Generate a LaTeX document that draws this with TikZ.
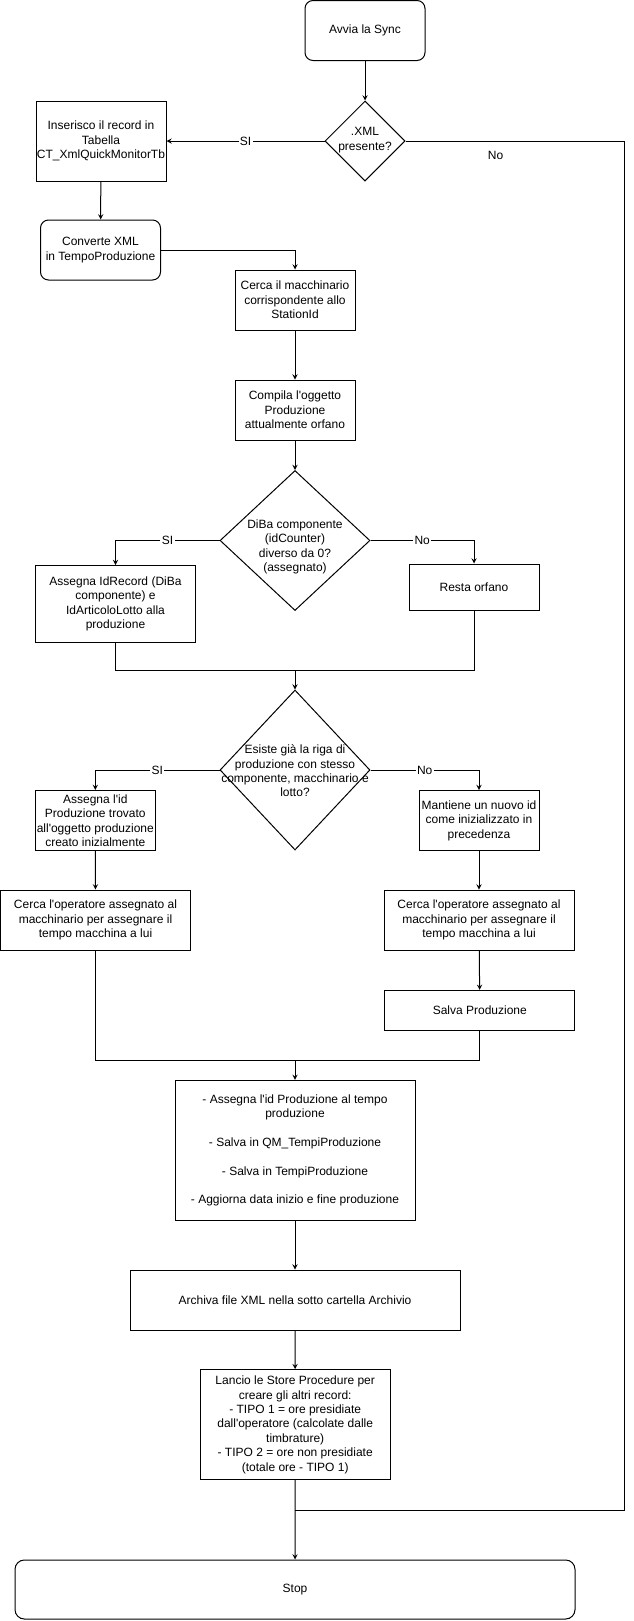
\documentclass[tikz,border=0pt]{standalone}
\usepackage{fontspec}
\setmainfont{Liberation Sans}[Ligatures=TeXOff]
\usetikzlibrary{arrows,shapes,positioning}
\tikzstyle{process} = [rectangle, draw, inner sep=0pt, align=center, line width=0.75pt, font=\fontsize{9}{10.8}\selectfont]
\tikzstyle{terminal} = [process, rounded corners=6pt]
\tikzstyle{decision} = [diamond, draw, inner sep=0pt, line width=0.75pt]
\tikzstyle{dtext} = [align=center, inner sep=0pt, font=\fontsize{9}{10.8}\selectfont]
\tikzstyle{lbl} = [inner sep=1pt, fill=white, font=\fontsize{9}{10.8}\selectfont]
\tikzstyle{arrow} = [->,>=stealth, line width=0.75pt]
\tikzstyle{line} = [line width=0.75pt]

\begin{document}
\begin{tikzpicture}[x=0.75pt,y=-0.75pt]
\useasboundingbox (0,0) rectangle (633,1621);

% Start and first check
\node[terminal, minimum width=90pt, minimum height=45pt] (avvia) at (365,30.5) {Avvia la Sync};
\node[decision, minimum width=60pt, minimum height=60pt] (xml) at (365,141) {};
\node[dtext] (xmltxt) at (365,140) {.XML\\presente?};
\node[process, minimum width=97.5pt, minimum height=60pt] (inserisco) at (101,141) {Inserisco il record in\\Tabella\\CT\_XmlQuickMonitorTb};
\node[terminal, minimum width=90pt, minimum height=45pt] (converte) at (100.5,250) {Converte XML\\in TempoProduzione};

% Machine and production object
\node[process, minimum width=90pt, minimum height=45pt] (macchinario) at (295,300) {Cerca il macchinario\\corrispondente allo\\StationId};
\node[process, minimum width=90pt, minimum height=45pt] (compila) at (295,410) {Compila l'oggetto\\Produzione\\attualmente orfano};

% DiBa check
\node[decision, minimum width=112.5pt, minimum height=105pt] (diba) at (295,540.5) {};
\node[dtext] (dibatxt) at (295,547) {DiBa componente\\(idCounter)\\diverso da 0?\\(assegnato)};
\node[process, minimum width=120pt, minimum height=57.75pt] (idrecord) at (115.5,604) {Assegna IdRecord (DiBa\\componente) e\\IdArticoloLotto alla\\produzione};
\node[process, minimum width=97.5pt, minimum height=34.5pt] (resta) at (474,587) {Resta orfano};
\coordinate (join1) at (295,670);

% Existing production check
\node[decision, minimum width=112.5pt, minimum height=120pt] (esiste) at (295,770) {};
\node[dtext] (esistetxt) at (295,771) {Esiste già la riga di\\produzione con stesso\\componente, macchinario e\\lotto?};
\node[process, minimum width=90pt, minimum height=45pt] (assegnaid) at (95.3,820.5) {Assegna l'id\\Produzione trovato\\all'oggetto produzione\\creato inizialmente};
\node[process, minimum width=90pt, minimum height=45pt] (mantiene) at (479,820.5) {Mantiene un nuovo id\\come inizializzato in\\precedenza};
\node[process, minimum width=142.5pt, minimum height=45pt] (operatoreL) at (95.5,920) {Cerca l'operatore assegnato al\\macchinario per assegnare il\\tempo macchina a lui};
\node[process, minimum width=142.5pt, minimum height=45pt] (operatoreR) at (479,920) {Cerca l'operatore assegnato al\\macchinario per assegnare il\\tempo macchina a lui};
\node[process, minimum width=142.5pt, minimum height=30pt] (salva) at (479.8,1010.4) {Salva Produzione};
\coordinate (join2) at (295,1060);

% Final steps
\node[process, minimum width=180pt, minimum height=105pt] (tempi) at (295,1150.4) {- Assegna l'id Produzione al tempo\\produzione\\[10.8pt]- Salva in QM\_TempiProduzione\\[10.8pt]- Salva in TempiProduzione\\[10.8pt]- Aggiorna data inizio e fine produzione};
\node[process, minimum width=247.5pt, minimum height=45pt] (archivia) at (295,1300) {Archiva file XML nella sotto cartella Archivio};
\node[process, minimum width=142.5pt, minimum height=82.5pt] (lancio) at (295.2,1424.7) {Lancio le Store Procedure per\\creare gli altri record:\\- TIPO 1 = ore presidiate\\dall'operatore (calcolate dalle\\timbrature)\\- TIPO 2 = ore non presidiate\\(totale ore - TIPO 1)};
\coordinate (join3) at (295,1510);
\coordinate (bordo) at (624,141);
\node[terminal, rounded corners=7pt, minimum width=420pt, minimum height=44.25pt] (stop) at (295,1589.5) {Stop};

% Connectors
\draw[arrow] (avvia) -- (xml);
\draw[arrow] (xml.west) -- node[lbl] {SI} (inserisco.east);
\draw[line] (xml.east) -- (bordo) |- (join3);
\node[dtext] (no1) at (495.6,155) {No};
\draw[arrow] (inserisco) -- (converte);
\draw[arrow] (converte.east) -| (macchinario.north);
\draw[arrow] (macchinario) -- (compila);
\draw[arrow] (compila) -- (diba.north);
\draw[arrow] (diba.west) -| node[lbl, pos=0.25] {SI} (idrecord.north);
\draw[arrow] (diba.east) -| node[lbl, pos=0.25] {No} (resta.north);
\draw[line] (idrecord.south) |- (join1) -| (resta.south);
\draw[arrow] (join1) -- (esiste.north);
\draw[arrow] (esiste.west) -| node[lbl, pos=0.25] {SI} (assegnaid.north);
\draw[arrow] (esiste.east) -| node[lbl, pos=0.25] {No} (mantiene.north);
\draw[arrow] (assegnaid) -- (operatoreL);
\draw[arrow] (mantiene) -- (operatoreR);
\draw[arrow] (operatoreR) -- (salva);
\draw[line] (operatoreL.south) |- (join2) -| (salva.south);
\draw[arrow] (join2) -- (tempi.north);
\draw[arrow] (tempi) -- (archivia);
\draw[arrow] (archivia) -- (lancio);
\draw[arrow] (lancio) -- (stop);
\end{tikzpicture}
\end{document}
